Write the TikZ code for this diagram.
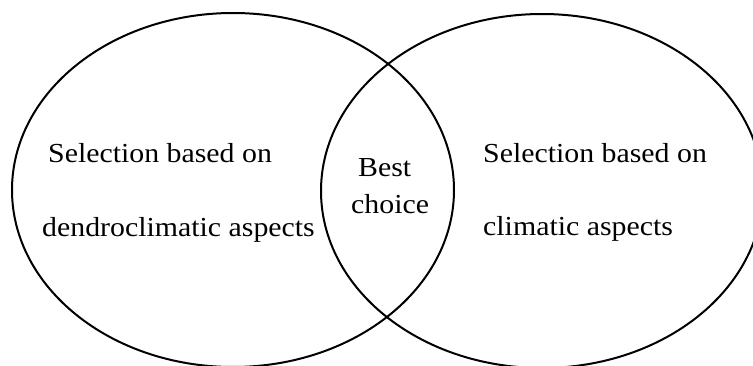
\documentclass[tikz,border=0pt]{standalone}
\usepackage{fontspec}
\setmainfont{Liberation Serif}
\usetikzlibrary{shapes.geometric}
\newcommand{\vtxt}[1]{\scalebox{1.085}[1]{#1}}
\tikzset{
  setshape/.style={draw, ellipse, line width=2pt, inner sep=0pt,
    minimum width=442pt, minimum height=354pt},
  lbl/.style={anchor=base west, inner sep=0pt, font=\fontsize{27.5}{27.5}\selectfont}
}
\begin{document}
\begin{tikzpicture}[x=1pt,y=1pt]
\useasboundingbox (0,0) rectangle (753,365);
\clip (0,0) rectangle (753,365);
\fill[white] (0,0) rectangle (753,365);
\node[setshape] (L) at (233,175) {};
\node[setshape] (R) at (542,174) {};
\node[lbl] (l1) at (48,203) {\vtxt{Selection based on}};
\node[lbl] (l2) at (42,129) {\vtxt{dendroclimatic aspects}};
\node[lbl] (r1) at (483,203) {\vtxt{Selection based on}};
\node[lbl] (r2) at (483,130) {\vtxt{climatic aspects}};
\node[lbl] (c1) at (358,189) {\vtxt{Best}};
\node[lbl] (c2) at (351,152) {\vtxt{choice}};
\end{tikzpicture}
\end{document}
